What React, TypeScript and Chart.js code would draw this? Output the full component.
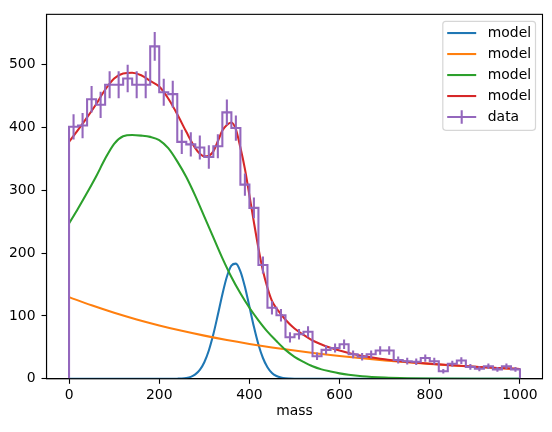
import React, { useEffect, useRef } from "react";
import { Chart, registerables } from "chart.js";

Chart.register(...registerables);

// ---- data -----------------------------------------------------------------
const binEdges = [
  0, 20, 40, 60, 80, 100, 120, 140, 160, 180, 200, 220, 240, 260, 280, 300, 320, 340, 360, 380,
  400, 420, 440, 460, 480, 500, 520, 540, 560, 580, 600, 620, 640, 660, 680, 700, 720, 740, 760, 780,
  800, 820, 840, 860, 880, 900, 920, 940, 960, 980, 1000,
];
const dataCounts = [
  401, 403, 445, 436, 468, 468, 478, 468, 468, 529,
  456, 453, 377, 373, 368, 353, 370, 424, 399, 309,
  272, 181, 113, 101, 66, 71, 75, 36, 46, 49,
  55, 39, 35, 39, 45, 45, 30, 28, 27, 33,
  28, 12, 24, 29, 19, 16, 20, 15, 20, 15,
];
const dataErrors = [
  20.0, 20.1, 21.1, 20.9, 21.6, 21.6, 21.9, 21.6, 21.6, 23.0,
  21.4, 21.3, 19.4, 19.3, 19.2, 18.8, 19.2, 20.6, 20.0, 17.6,
  16.5, 13.5, 10.6, 10.0, 8.1, 8.4, 8.7, 6.0, 6.8, 7.0,
  7.4, 6.2, 5.9, 6.2, 6.7, 6.7, 5.5, 5.3, 5.2, 5.7,
  5.3, 3.5, 4.9, 5.4, 4.4, 4.0, 4.5, 3.9, 4.5, 3.9,
];

const blueX = [0, 200, 230, 240, 250, 260, 270, 280, 290, 300, 310, 320, 330, 340, 350, 360, 370, 380, 390, 400, 410, 420, 430, 440, 450, 460, 470, 480, 490, 500, 540, 1000];
const blueY = [0, 0, 0.05, 0.2, 0.5, 1.3, 3.1, 7.0, 14.2, 26.4, 45.1, 70.8, 101.8, 134.3, 162.4, 180.1, 183.3, 171.0, 146.4, 114.9, 82.7, 54.6, 33.1, 18.4, 9.3, 4.4, 1.9, 0.7, 0.3, 0.1, 0, 0];

const orangeX = [0, 50, 100, 150, 200, 250, 300, 350, 400, 450, 500, 550, 600, 650, 700, 750, 800, 850, 900, 950, 1000];
const orangeY = [130, 116.9, 105.1, 94.5, 85.0, 76.4, 68.7, 61.7, 55.5, 49.9, 44.9, 40.3, 36.3, 32.6, 29.3, 26.4, 23.7, 21.3, 19.2, 17.2, 15.5];

const greenX = [0, 20, 40, 60, 80, 100, 120, 140, 160, 180, 200, 220, 240, 260, 280, 300, 320, 340, 360, 380, 400, 420, 440, 460, 480, 500, 520, 540, 560, 580, 600, 620, 650, 700, 750, 800, 900, 1000];
const greenY = [247, 271, 296, 322, 350, 374, 386, 388, 387, 385, 380, 367, 346, 321, 291, 258, 225, 192, 162, 136, 113, 93, 75, 60, 46, 35, 27, 20, 15, 11.6, 8.6, 6.3, 4, 2, 1, 0.5, 0.1, 0];

const redX = [0, 20, 40, 60, 80, 100, 120, 140, 160, 180, 200, 220, 240, 260, 280, 290, 300, 310, 320, 330, 340, 350, 360, 370, 380, 390, 400, 410, 420, 430, 440, 450, 460, 470, 480, 500, 520, 540, 560, 580, 600, 620, 640, 660, 680, 700, 720, 740, 760, 800, 850, 900, 950, 1000];
const redY = [377, 396, 416, 437, 460, 478, 486, 487, 483, 474, 465, 446, 421, 393, 367, 358, 354, 355, 362, 378, 395, 404, 408, 397, 368, 334, 292, 249, 208, 172, 145, 124, 112, 103, 94, 80, 70, 61, 54.7, 49.4, 44.9, 41.1, 38, 35.3, 33, 31, 29.3, 27.7, 26.3, 24, 21.5, 19.3, 17.3, 15.6];

const xTicks = [0, 200, 400, 600, 800, 1000];
const yTicks = [0, 100, 200, 300, 400, 500];
const xTitle = "mass";
const legendLabels = ["model", "model", "model", "model", "data"];

// ---- styles ---------------------------------------------------------------
const BLUE = "#1f77b4";
const ORANGE = "#ff7f0e";
const GREEN = "#2ca02c";
const RED = "#d62728";
const PURPLE = "#9467bd";
const legendColors = [BLUE, ORANGE, GREEN, RED, PURPLE];
const FAMILY = "'DejaVu Sans', 'Liberation Sans', sans-serif";
const FS = 13.9;
const LW = 2.08;

const pts = (xs: number[], ys: number[]) => xs.map((x, i) => ({ x, y: ys[i] }));

const framePlugin = {
  id: "mplFrame",
  afterDatasetsDraw(chart: any) {
    const { ctx, chartArea } = chart;
    ctx.save();
    ctx.strokeStyle = "#000";
    ctx.lineWidth = 1.1;
    ctx.strokeRect(chartArea.left, chartArea.top, chartArea.right - chartArea.left, chartArea.bottom - chartArea.top);
    ctx.restore();
  },
};

const legendPlugin = {
  id: "mplLegend",
  afterDraw(chart: any) {
    const { ctx, chartArea } = chart;
    const boxW = 92.7;
    const boxH = 109;
    const right = chartArea.right - 7;
    const top = chartArea.top + 7;
    const left = right - boxW;
    ctx.save();
    ctx.beginPath();
    if (ctx.roundRect) ctx.roundRect(left, top, boxW, boxH, 3);
    else ctx.rect(left, top, boxW, boxH);
    ctx.fillStyle = "rgba(255,255,255,0.8)";
    ctx.fill();
    ctx.strokeStyle = "rgba(204,204,204,0.8)";
    ctx.lineWidth = 1.2;
    ctx.stroke();
    ctx.font = `${FS}px ${FAMILY}`;
    ctx.textBaseline = "middle";
    ctx.textAlign = "left";
    legendLabels.forEach((label, i) => {
      const y = top + 11.7 + i * 21;
      const x0 = left + 4.4;
      const x1 = left + 33.4;
      ctx.strokeStyle = legendColors[i];
      ctx.lineWidth = LW;
      ctx.beginPath();
      ctx.moveTo(x0, y);
      ctx.lineTo(x1, y);
      if (label === "data") {
        const xm = (x0 + x1) / 2;
        ctx.moveTo(xm, y - 6.7);
        ctx.lineTo(xm, y + 6.7);
      }
      ctx.stroke();
      ctx.fillStyle = "#000";
      ctx.fillText(label, left + 45, y);
    });
    ctx.restore();
  },
};

export default function App() {
  const ref = useRef<HTMLCanvasElement | null>(null);

  useEffect(() => {
    if (!ref.current) return;

    const stepPoints: { x: number; y: number }[] = [{ x: binEdges[0], y: 0 }];
    dataCounts.forEach((v, i) => stepPoints.push({ x: binEdges[i], y: v }));
    stepPoints.push({ x: binEdges[binEdges.length - 1], y: 0 });

    const errPoints: { x: number; y: number | null }[] = [];
    dataCounts.forEach((v, i) => {
      const c = (binEdges[i] + binEdges[i + 1]) / 2;
      errPoints.push({ x: c, y: v - dataErrors[i] });
      errPoints.push({ x: c, y: v + dataErrors[i] });
      errPoints.push({ x: c, y: null });
    });

    const lineDs = (label: string, data: any[], color: string, extra: any = {}) => ({
      label,
      data,
      borderColor: color,
      backgroundColor: color,
      borderWidth: LW,
      pointRadius: 0,
      fill: false,
      ...extra,
    });

    const tickFont = { family: FAMILY, size: FS };
    const plain = (v: any) => String(v);

    const chart = new Chart(ref.current, {
      type: "line",
      data: {
        datasets: [
          lineDs("data", errPoints, PURPLE, { spanGaps: false }),
          lineDs("data", stepPoints, PURPLE, { stepped: "before", borderJoinStyle: "miter" }),
          lineDs("model", pts(redX, redY), RED, { cubicInterpolationMode: "monotone" }),
          lineDs("model", pts(greenX, greenY), GREEN, { cubicInterpolationMode: "monotone" }),
          lineDs("model", pts(orangeX, orangeY), ORANGE, { cubicInterpolationMode: "monotone" }),
          lineDs("model", pts(blueX, blueY), BLUE, { cubicInterpolationMode: "monotone" }),
        ] as any,
      },
      options: {
        responsive: false,
        animation: false,
        devicePixelRatio: 1,
        layout: { padding: { top: 9.3, right: 9.5, left: 0, bottom: 0 } },
        plugins: { legend: { display: false }, tooltip: { enabled: false } },
        events: [],
        scales: {
          x: {
            type: "linear",
            min: -50,
            max: 1050,
            afterBuildTicks: (s: any) => {
              s.ticks = xTicks.map((value) => ({ value }));
            },
            afterFit: (s: any) => {
              s.height = 53.2;
            },
            grid: { drawOnChartArea: false, drawTicks: true, tickLength: 5, tickColor: "#000", tickWidth: 1.1 },
            border: { display: true, color: "#000", width: 1.1 },
            ticks: { color: "#000", font: tickFont, padding: 3, maxRotation: 0, autoSkip: false, callback: plain },
            title: { display: true, text: xTitle, color: "#000", font: tickFont, padding: { top: 0, bottom: 12.7 } },
          },
          y: {
            type: "linear",
            min: 0,
            max: 580,
            afterBuildTicks: (s: any) => {
              s.ticks = yTicks.map((value) => ({ value }));
            },
            afterFit: (s: any) => {
              s.width = 46.5;
            },
            grid: { drawOnChartArea: false, drawTicks: true, tickLength: 5, tickColor: "#000", tickWidth: 1.1 },
            border: { display: true, color: "#000", width: 1.1 },
            ticks: { color: "#000", font: tickFont, padding: 6, callback: plain },
          },
        },
      } as any,
      plugins: [framePlugin, legendPlugin],
    });

    return () => chart.destroy();
  }, []);

  return (
    <div style={{ position: "absolute", left: 0, top: 0, width: 552, height: 432, background: "#fff" }}>
      <canvas ref={ref} width={552} height={432} style={{ width: 552, height: 432, display: "block" }} />
    </div>
  );
}
